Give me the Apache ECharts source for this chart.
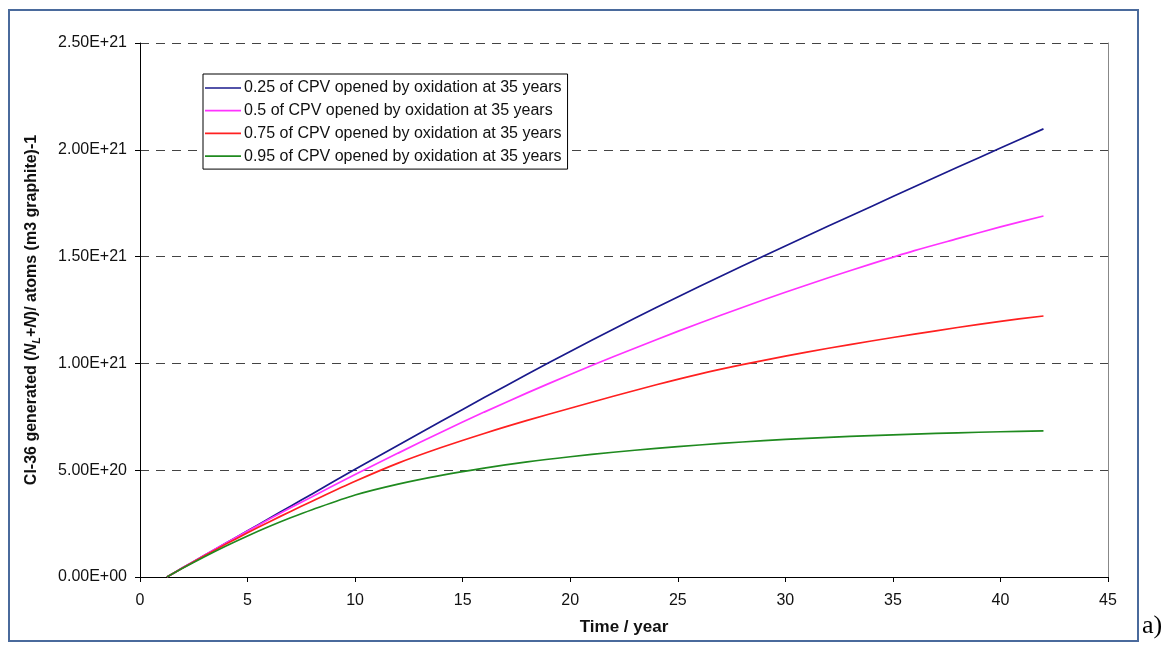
<!DOCTYPE html>
<html><head><meta charset="utf-8">
<script src="https://cdn.jsdelivr.net/npm/echarts@6/dist/echarts.min.js"></script>
<style>html,body{margin:0;padding:0;background:#fff}#c{width:1168px;height:646px}</style>
</head><body><div id="c"></div>
<script>
const years = [1.25, 2, 3, 4, 5, 6, 7, 8, 10, 12, 14, 16, 18, 20, 22, 24, 26, 28, 30, 32, 34, 36, 38, 40, 42];
const frac025 = [0, 0.044, 0.1015, 0.159, 0.2165, 0.274, 0.3315, 0.389, 0.504, 0.617, 0.729, 0.84, 0.949, 1.056, 1.16, 1.262, 1.36, 1.456, 1.55, 1.643, 1.735, 1.827, 1.918, 2.008, 2.098];
const frac05 = [0, 0.044, 0.102, 0.159, 0.215, 0.27, 0.324, 0.376, 0.48, 0.58, 0.678, 0.772, 0.862, 0.948, 1.031, 1.111, 1.188, 1.262, 1.333, 1.401, 1.466, 1.528, 1.584, 1.639, 1.69];
const frac075 = [0, 0.043, 0.099, 0.154, 0.207, 0.258, 0.307, 0.355, 0.448, 0.533, 0.606, 0.672, 0.733, 0.79, 0.846, 0.9, 0.95, 0.994, 1.034, 1.071, 1.105, 1.137, 1.168, 1.197, 1.222];
const frac095 = [0, 0.042, 0.095, 0.145, 0.192, 0.236, 0.277, 0.315, 0.384, 0.435, 0.476, 0.51, 0.539, 0.563, 0.584, 0.602, 0.618, 0.632, 0.644, 0.654, 0.662, 0.669, 0.675, 0.68, 0.684];
const seriesNames = ['0.25 of CPV opened by oxidation at 35 years','0.5 of CPV opened by oxidation at 35 years','0.75 of CPV opened by oxidation at 35 years','0.95 of CPV opened by oxidation at 35 years'];
const seriesColors = ['#1a1a8c','#ff33ff','#ff2020','#1f8a1f'];
const yTickLabels = ['0.00E+00','5.00E+20','1.00E+21','1.50E+21','2.00E+21','2.50E+21'];
const SCALE = 1e21;

const allData = [frac025, frac05, frac075, frac095];
const FONT = 'Liberation Sans, Arial, sans-serif';
const chart = echarts.init(document.getElementById('c'));
chart.setOption({
  animation: false,
  grid: {left: 140, right: 60, top: 43, bottom: 69},
  legend: {
    orient: 'vertical', left: 203, top: 74,
    padding: [6, 6, 5, 2], itemGap: 6.7, itemWidth: 36, itemHeight: 15,
    backgroundColor: '#fff', borderColor: '#000', borderWidth: 1, borderRadius: 0,
    textStyle: {fontFamily: FONT, fontSize: 16, color: '#111', padding: [0,0,0,-2]},
    data: seriesNames.map(n => ({name: n, icon: 'path://M0,0 L36,0 L36,1.7 L0,1.7 Z'}))
  },
  xAxis: {
    type: 'value', min: 0, max: 45, interval: 5,
    name: 'Time / year', nameLocation: 'middle', nameGap: 42,
    nameTextStyle: {fontFamily: FONT, fontSize: 17, fontWeight: 'bold', color: '#111'},
    axisLine: {lineStyle: {color: '#000', width: 1}},
    axisTick: {show: true, inside: false, length: 5, lineStyle: {color: '#000'}},
    axisLabel: {fontFamily: FONT, fontSize: 16, color: '#111', margin: 16},
    splitLine: {show: false}
  },
  yAxis: [{
    type: 'value', min: 0, max: 2.5 * SCALE, interval: 0.5 * SCALE,
    name: '{b|Cl-36 generated (}{i|N}{s|L}{b|+}{i|N}{b|)/ atoms (m3 graphite)-1}',
    nameLocation: 'middle', nameGap: 98, nameRotate: 90,
    nameTextStyle: {
      fontFamily: FONT, fontSize: 16, fontWeight: 'bold', color: '#111',
      rich: {
        b: {fontFamily: FONT, fontSize: 16, fontWeight: 'bold', color: '#111'},
        i: {fontFamily: FONT, fontSize: 16, fontWeight: 'bold', fontStyle: 'italic', color: '#111'},
        s: {fontFamily: FONT, fontSize: 11, fontWeight: 'bold', fontStyle: 'italic', color: '#111', padding: [9,0,0,0]}
      }
    },
    axisLine: {show: true, lineStyle: {color: '#000', width: 1}},
    axisTick: {show: true, length: 5, lineStyle: {color: '#000'}},
    axisLabel: {fontFamily: FONT, fontSize: 16, color: '#111', margin: 13,
      formatter: (v) => yTickLabels[Math.round(v / (0.5 * SCALE))]},
    splitLine: {show: true, lineStyle: {color: '#444', type: [9, 7], width: 1}}
  }, {
    type: 'value', position: 'right', min: 0, max: 2.5 * SCALE, interval: 0.5 * SCALE,
    axisLine: {show: true, lineStyle: {color: '#888', width: 1}},
    axisTick: {show: false}, axisLabel: {show: false}, splitLine: {show: false}
  }],
  series: allData.map((arr, k) => ({
    name: seriesNames[k], type: 'line', smooth: 0.3, symbol: 'none',
    lineStyle: {color: seriesColors[k], width: 1.7}, itemStyle: {color: seriesColors[k]},
    data: years.map((x, i) => [x, arr[i] * SCALE])
  })),
  graphic: [
    {type: 'rect', shape: {x: 9, y: 10, width: 1129, height: 631}, style: {fill: 'none', stroke: '#4a6a9c', lineWidth: 2}, silent: true},
    {type: 'text', left: 1142, top: 613, style: {text: 'a)', font: '26px "Liberation Serif", serif', fill: '#000'}}
  ]
});
</script></body></html>
